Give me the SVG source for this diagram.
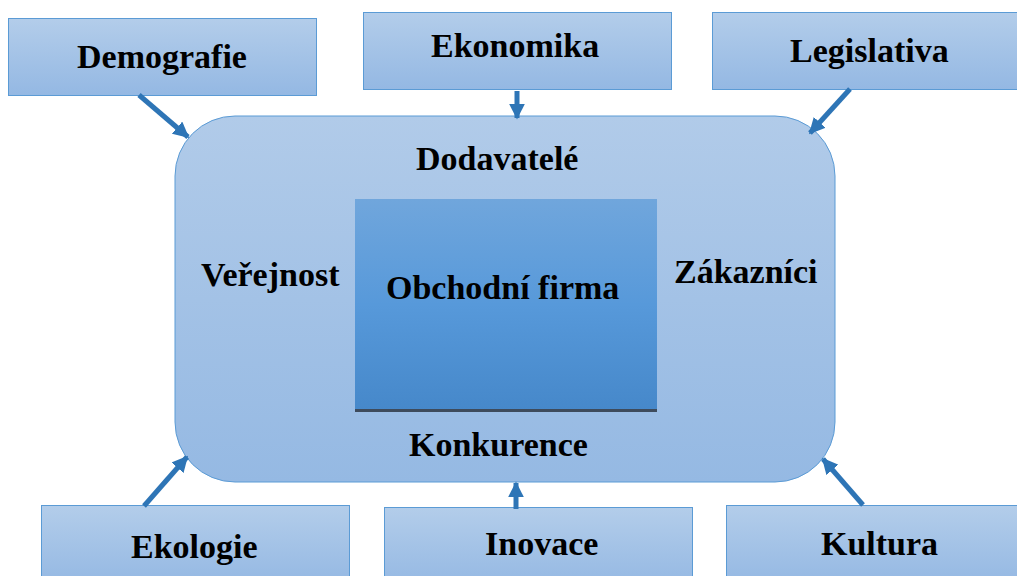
<svg xmlns="http://www.w3.org/2000/svg" width="1017" height="576" viewBox="0 0 1017 576">
  <defs>
    <linearGradient id="boxFill" x1="0" y1="0" x2="0" y2="1">
      <stop offset="0" stop-color="#B3CDEA"/>
      <stop offset="1" stop-color="#94B8E3"/>
    </linearGradient>
    <linearGradient id="envFill" x1="0" y1="0" x2="0" y2="1">
      <stop offset="0" stop-color="#B1CBE9"/>
      <stop offset="1" stop-color="#95B9E3"/>
    </linearGradient>
    <linearGradient id="firmFill" x1="0" y1="0" x2="0" y2="1">
      <stop offset="0" stop-color="#70A6DC"/>
      <stop offset="0.5" stop-color="#5799DA"/>
      <stop offset="1" stop-color="#4688CA"/>
    </linearGradient>
    <marker id="head" viewBox="0 0 10 10" refX="9" refY="5" markerWidth="3.2" markerHeight="3.2" orient="auto" markerUnits="strokeWidth">
      <path d="M0,0 L10,5 L0,10 Z" fill="#2E75B6"/>
    </marker>
    <!-- shared factor box, reused for all six outer factors -->
    <rect id="factorBox" width="308" height="77" fill="url(#boxFill)" stroke="#5B9BD5" stroke-width="1"/>
    <rect id="factorBoxLow" width="308" height="80" fill="url(#boxFill)" stroke="#5B9BD5" stroke-width="1"/>
  </defs>

  <!-- environment -->
  <g id="environment">
    <rect x="175" y="116" width="660" height="366" rx="60" ry="60" fill="url(#envFill)" stroke="#5B9BD5" stroke-width="1"/>
    <text x="416" y="170" font-family="Liberation Serif" font-weight="bold" font-size="34">Dodavatel&#233;</text>
    <text x="201" y="286" font-family="Liberation Serif" font-weight="bold" font-size="34">Ve&#345;ejnost</text>
    <text x="674" y="283" font-family="Liberation Serif" font-weight="bold" font-size="34">Z&#225;kazn&#237;ci</text>
    <text x="409" y="456" font-family="Liberation Serif" font-weight="bold" font-size="34">Konkurence</text>
  </g>

  <!-- firm -->
  <g id="firm">
    <rect x="355" y="199" width="302" height="211" fill="url(#firmFill)"/>
    <line x1="355" y1="410.5" x2="657" y2="410.5" stroke="#3E4B5C" stroke-width="3"/>
    <text x="386" y="299" font-family="Liberation Serif" font-weight="bold" font-size="34">Obchodn&#237; firma</text>
  </g>

  <!-- outer factors -->
  <g id="demografie">
    <use href="#factorBox" x="8.5" y="18.5"/>
    <text x="77" y="68" font-family="Liberation Serif" font-weight="bold" font-size="34">Demografie</text>
  </g>
  <g id="ekonomika">
    <use href="#factorBox" x="363.5" y="12.5"/>
    <text x="431" y="57" font-family="Liberation Serif" font-weight="bold" font-size="34">Ekonomika</text>
  </g>
  <g id="legislativa">
    <use href="#factorBox" x="712.5" y="12.5"/>
    <text x="790" y="62" font-family="Liberation Serif" font-weight="bold" font-size="34">Legislativa</text>
  </g>
  <g id="ekologie">
    <use href="#factorBoxLow" x="41.5" y="505.5"/>
    <text x="131" y="558" font-family="Liberation Serif" font-weight="bold" font-size="34">Ekologie</text>
  </g>
  <g id="inovace">
    <use href="#factorBoxLow" x="384.5" y="507.5"/>
    <text x="485" y="555" font-family="Liberation Serif" font-weight="bold" font-size="34">Inovace</text>
  </g>
  <g id="kultura">
    <use href="#factorBoxLow" x="726.5" y="505.5"/>
    <text x="821" y="555" font-family="Liberation Serif" font-weight="bold" font-size="34">Kultura</text>
  </g>

  <!-- connectors -->
  <g id="connectors" stroke="#2E75B6" stroke-width="5" fill="none" marker-end="url(#head)">
    <line x1="139" y1="95" x2="188" y2="137"/>
    <line x1="517" y1="91" x2="517" y2="118"/>
    <line x1="850" y1="89" x2="810" y2="133"/>
    <line x1="144" y1="506" x2="187" y2="457"/>
    <line x1="516" y1="509" x2="516" y2="483"/>
    <line x1="863" y1="505" x2="823" y2="459"/>
  </g>
</svg>
